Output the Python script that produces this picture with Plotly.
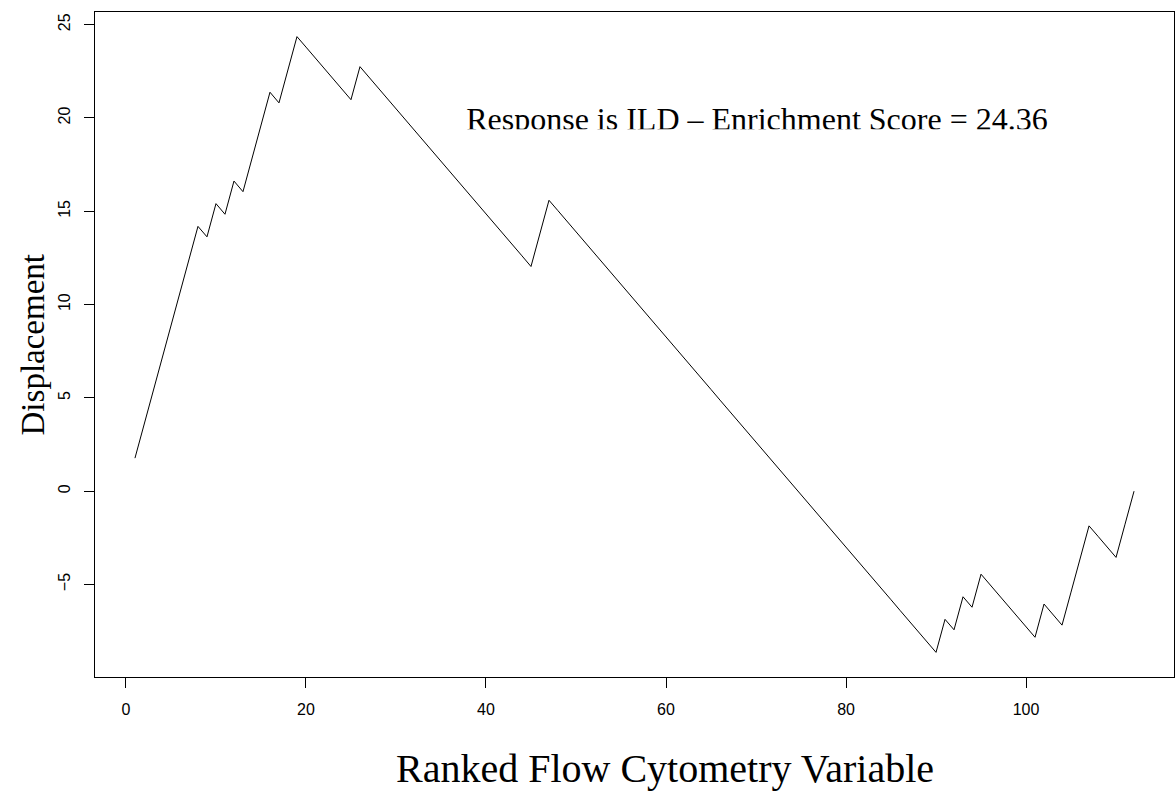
import plotly.graph_objects as go

# Running enrichment displacement for each ranked variable (1..112)
rank = list(range(1, 113))
displacement = [
    1.77, 3.55, 5.32, 7.10, 8.87, 10.65, 12.42, 14.19, 13.63, 15.41,
    14.84, 16.62, 16.05, 17.83, 19.60, 21.38, 20.81, 22.59, 24.36, 23.80,
    23.23, 22.67, 22.11, 21.54, 20.98, 22.75, 22.19, 21.63, 21.06, 20.50,
    19.93, 19.37, 18.81, 18.24, 17.68, 17.12, 16.55, 15.99, 15.43, 14.86,
    14.30, 13.74, 13.17, 12.61, 12.04, 13.82, 15.59, 15.03, 14.47, 13.90,
    13.34, 12.78, 12.21, 11.65, 11.08, 10.52, 9.96, 9.39, 8.83, 8.27,
    7.70, 7.14, 6.58, 6.01, 5.45, 4.88, 4.32, 3.76, 3.19, 2.63,
    2.07, 1.50, 0.94, 0.38, -0.19, -0.75, -1.32, -1.88, -2.44, -3.01,
    -3.57, -4.13, -4.70, -5.26, -5.82, -6.39, -6.95, -7.51, -8.08, -8.64,
    -6.87, -7.43, -5.66, -6.22, -4.45, -5.01, -5.57, -6.14, -6.70, -7.26,
    -7.83, -6.05, -6.62, -7.18, -5.41, -3.63, -1.86, -2.42, -2.98, -3.55,
    -1.77, 0.00,
]
x_ticks = [0, 20, 40, 60, 80, 100]
y_ticks = [-5, 0, 5, 10, 15, 20, 25]

response = "ILD"
score = max(displacement)
label = f"Response is {response} \u2013 Enrichment Score = {score:.2f}"

SERIF = "Liberation Serif, Times New Roman, serif"
SANS = "Liberation Sans, Arial, Helvetica, sans-serif"


def padded(lo, hi, frac=0.04):
    span = hi - lo
    return [lo - frac * span, hi + frac * span]


xr = padded(min(rank), max(rank))
yr = padded(min(displacement), max(displacement))

fig = go.Figure()
fig.add_trace(go.Scatter(
    x=rank, y=displacement, mode="lines",
    line=dict(color="black", width=1),
    hoverinfo="skip", showlegend=False,
))
# in-plot label (its lower part is masked below)
fig.add_trace(go.Scatter(
    x=[37.8], y=[19.78], mode="text", text=[label],
    textposition="middle right",
    textfont=dict(family=SERIF, size=32, color="black"),
    hoverinfo="skip", showlegend=False,
))
fig.add_shape(type="rect", xref="x", yref="y",
              x0=36, x1=106, y0=18.2, y1=19.4,
              fillcolor="white", line=dict(width=0), layer="above")

axis_common = dict(
    showgrid=False, zeroline=False,
    showline=True, linecolor="black", linewidth=1, mirror=True,
    ticks="outside", ticklen=10, tickwidth=1, tickcolor="black",
    tickfont=dict(family=SANS, size=16, color="black"),
)
fig.update_xaxes(range=xr, tickvals=x_ticks, ticklabelstandoff=8, **axis_common)
fig.update_yaxes(range=yr, tickvals=y_ticks, tickangle=-90,
                 ticklabelstandoff=8, **axis_common)

fig.add_annotation(text="Ranked Flow Cytometry Variable", xref="paper", yref="paper",
                   x=0.528, y=-0.138, xanchor="center", yanchor="middle",
                   showarrow=False, font=dict(family=SERIF, size=40, color="black"))
fig.add_annotation(text="Displacement", xref="paper", yref="paper",
                   x=-0.0575, y=0.5, xanchor="center", yanchor="middle", textangle=-90,
                   showarrow=False, font=dict(family=SERIF, size=33, color="black"))

fig.update_layout(
    width=1175, height=791,
    margin=dict(l=95, r=1, t=12, b=114),
    paper_bgcolor="white", plot_bgcolor="white",
    showlegend=False,
)

fig.write_html("out.html")
